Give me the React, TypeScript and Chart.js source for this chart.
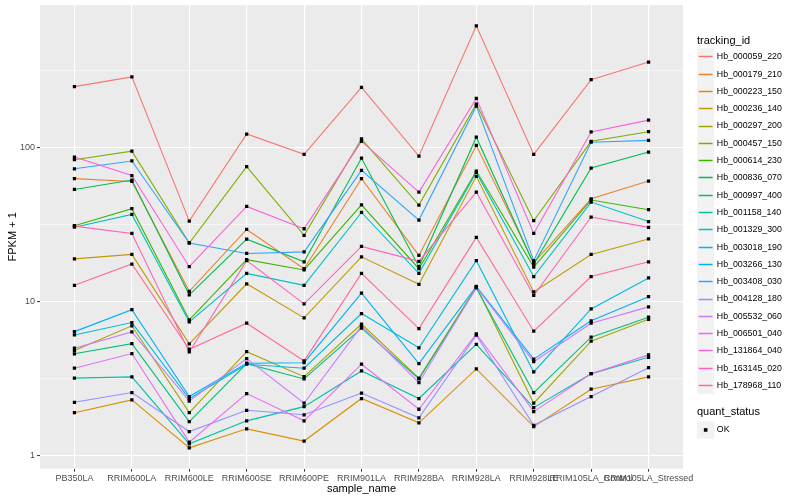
import React, { useEffect, useRef } from 'react';
import { Chart, registerables } from 'chart.js';

Chart.register(...registerables);

const categories = [
  'PB350LA', 'RRIM600LA', 'RRIM600LE', 'RRIM600SE', 'RRIM600PE', 'RRIM901LA',
  'RRIM928BA', 'RRIM928LA', 'RRIM928LE', 'RRIM105LA_Control', 'RRIM105LA_Stressed',
];

const seriesNames = [
  'Hb_000059_220', 'Hb_000179_210', 'Hb_000223_150', 'Hb_000236_140', 'Hb_000297_200',
  'Hb_000457_150', 'Hb_000614_230', 'Hb_000836_070', 'Hb_000997_400', 'Hb_001158_140',
  'Hb_001329_300', 'Hb_003018_190', 'Hb_003266_130', 'Hb_003408_030', 'Hb_004128_180',
  'Hb_005532_060', 'Hb_006501_040', 'Hb_131864_040', 'Hb_163145_020', 'Hb_178968_110',
];

const seriesColors = [
  '#F8766D', '#EA8331', '#D89000', '#C09B00', '#A3A500', '#7CAE00', '#39B600', '#00BB4E',
  '#00BF7D', '#00C1A3', '#00BFC4', '#00BAE0', '#00B0F6', '#35A2FF', '#9590FF', '#C77CFF',
  '#E76BF3', '#FA62DB', '#FF62BC', '#FF6C91',
];

// FPKM + 1 values, one array per tracking_id, in category order
const hb000059_220 = [249, 288, 33.4, 122.7, 90.5, 246, 88.3, 617, 90.5, 276.5, 359.7];
const hb000179_210 = [63, 60.4, 11.7, 29.5, 16.4, 63, 20, 103.5, 17.9, 46.6, 60.8];
const hb000223_150 = [1.91, 2.31, 1.13, 1.5, 1.25, 2.36, 1.64, 3.67, 1.55, 2.71, 3.26];
const hb000236_140 = [19, 20.3, 5.34, 13.1, 7.87, 19.6, 13.0, 65.2, 11.6, 20.3, 25.6];
const hb000297_200 = [4.83, 6.99, 1.91, 4.75, 3.27, 7.17, 3.2, 12.5, 2.2, 5.56, 7.7];
const hb000457_150 = [83.6, 95, 24.1, 75.3, 27, 114, 42.4, 192, 33.6, 110, 127];
const hb000614_230 = [31.2, 40.2, 7.64, 18.8, 16.1, 42.6, 16.4, 70.6, 16.8, 45.8, 39.6];
const hb000836_070 = [53.6, 61.7, 11.1, 25.5, 18.2, 85.7, 16.9, 117, 17.6, 73.8, 93.7];
const hb000997_400 = [4.6, 5.36, 1.67, 3.97, 3.16, 6.75, 3.16, 12.3, 2.58, 5.9, 7.95];
const hb001158_140 = [3.2, 3.26, 1.2, 1.69, 2.09, 3.56, 2.36, 5.3, 2.06, 3.42, 4.37];
const hb001329_300 = [30.5, 36.9, 7.41, 15.3, 12.8, 38, 15.3, 69.1, 14.6, 44.4, 33.2];
const hb003018_190 = [6.1, 7.34, 2.35, 3.94, 3.71, 8.4, 5.03, 18.5, 3.51, 9.0, 14.3];
const hb003266_130 = [6.41, 8.9, 2.43, 4.0, 4.03, 11.4, 3.97, 12.6, 4.25, 7.53, 10.8];
const hb003408_030 = [73, 82, 24.1, 20.6, 21.1, 71.3, 33.9, 186, 18.5, 108.5, 111.5];
const hb004128_180 = [2.23, 2.58, 1.44, 1.98, 1.85, 2.56, 1.77, 6.08, 1.58, 2.43, 3.74];
const hb005532_060 = [5.0, 6.38, 2.27, 4.28, 2.2, 6.96, 2.99, 12.4, 4.09, 7.27, 9.28];
const hb006501_040 = [3.71, 4.62, 1.23, 2.54, 1.69, 3.94, 2.01, 6.2, 1.94, 3.42, 4.53];
const hb131864_040 = [87, 66, 16.9, 41.6, 29.8, 110, 51.5, 209, 27.8, 126.5, 151];
const hb163145_020 = [31, 27.8, 4.73, 18.5, 9.7, 22.9, 18.3, 51.5, 11.0, 35.5, 30.4];
const hb178968_110 = [12.8, 17.6, 4.93, 7.27, 4.14, 15.3, 6.7, 26.2, 6.45, 14.6, 18.2];

const seriesValues = [
  hb000059_220, hb000179_210, hb000223_150, hb000236_140, hb000297_200,
  hb000457_150, hb000614_230, hb000836_070, hb000997_400, hb001158_140,
  hb001329_300, hb003018_190, hb003266_130, hb003408_030, hb004128_180,
  hb005532_060, hb006501_040, hb131864_040, hb163145_020, hb178968_110,
];

const yMajorTicks = [1, 10, 100];
const yMinorTicks = [3.1623, 31.623, 316.23];
const yMin = 0.827;
const yMax = 843;

const FONT = '"Liberation Sans", Arial, Helvetica, sans-serif';

const isMajor = (v: number) => yMajorTicks.some((m) => Math.abs(m - v) < 1e-6);

const bgPlugin = {
  id: 'ggbg',
  beforeDraw(chart: any) {
    const { ctx, chartArea: a } = chart;
    ctx.save();
    ctx.fillStyle = '#FFFFFF';
    ctx.fillRect(0, 0, chart.width, chart.height);
    ctx.fillStyle = '#EBEBEB';
    ctx.fillRect(a.left, a.top, a.right - a.left, a.bottom - a.top);
    ctx.restore();
  },
};

const decorPlugin = {
  id: 'ggdecor',
  afterDraw(chart: any) {
    const { ctx, chartArea: a } = chart;
    ctx.save();
    // axis titles
    ctx.fillStyle = '#000000';
    ctx.font = `11px ${FONT}`;
    ctx.textAlign = 'center';
    ctx.textBaseline = 'middle';
    ctx.fillText('sample_name', (a.left + a.right) / 2, 489);
    ctx.save();
    ctx.translate(12.5, (a.top + a.bottom) / 2);
    ctx.rotate(-Math.PI / 2);
    ctx.fillText('FPKM + 1', 0, 0);
    ctx.restore();

    // legend: tracking_id
    const lx = 697;
    const key = 17.3;
    ctx.textAlign = 'left';
    ctx.font = `11px ${FONT}`;
    ctx.fillText('tracking_id', lx, 40.5);
    ctx.font = `8.8px ${FONT}`;
    seriesNames.forEach((name, i) => {
      const top = 48.2 + i * key;
      const cy = Math.floor(top + key / 2) + 0.5;
      ctx.fillStyle = '#F2F2F2';
      ctx.fillRect(lx, top, key, key);
      ctx.strokeStyle = seriesColors[i];
      ctx.lineWidth = 1.5;
      ctx.beginPath();
      ctx.moveTo(lx + 1.7, cy);
      ctx.lineTo(lx + key - 1.7, cy);
      ctx.stroke();
      ctx.fillStyle = '#000000';
      ctx.fillText(name, lx + key + 2.5, top + key / 2);
    });

    // legend: quant_status
    ctx.font = `11px ${FONT}`;
    ctx.fillText('quant_status', lx, 412.3);
    const qTop = 421.3;
    ctx.fillStyle = '#F2F2F2';
    ctx.fillRect(lx, qTop, key, key);
    ctx.fillStyle = '#000000';
    ctx.fillRect(lx + key / 2 - 1.8, qTop + key / 2 - 1.8, 3.6, 3.6);
    ctx.font = `8.8px ${FONT}`;
    ctx.fillText('OK', lx + key + 2.5, qTop + key / 2);
    ctx.restore();
  },
};

export default function App() {
  const ref = useRef<HTMLCanvasElement>(null);

  useEffect(() => {
    const canvas = ref.current;
    if (!canvas) return;

    const lineSets = seriesValues.map((vals, i) => ({
      type: 'line' as const,
      label: seriesNames[i],
      data: vals.map((v, j) => ({ x: j, y: v })),
      borderColor: seriesColors[i],
      backgroundColor: seriesColors[i],
      borderWidth: 1.1,
      pointRadius: 0,
      fill: false,
      tension: 0,
      order: 100 - i,
    }));

    const pointSet = {
      type: 'line' as const,
      label: 'OK',
      data: seriesValues.flatMap((vals) => vals.map((v, j) => ({ x: j, y: v }))),
      showLine: false,
      borderColor: '#000000',
      backgroundColor: '#000000',
      pointStyle: 'rect',
      pointRadius: 2.3,
      pointBorderWidth: 0,
      order: 0,
    };

    const chart = new Chart(canvas, {
      type: 'line',
      data: { datasets: [pointSet as any, ...lineSets] },
      plugins: [bgPlugin, decorPlugin],
      options: {
        responsive: false,
        animation: false,
        events: [],
        layout: { padding: { top: 5, right: 117, bottom: 0, left: 0 } },
        plugins: {
          legend: { display: false },
          tooltip: { enabled: false },
          title: { display: false },
        },
        scales: {
          x: {
            type: 'linear',
            min: -0.6,
            max: 10.6,
            afterBuildTicks: (s: any) => {
              s.ticks = categories.map((_, i) => ({ value: i }));
            },
            afterFit: (s: any) => {
              s.height = 31.3;
              s.paddingLeft = 0;
              s.paddingRight = 0;
            },
            border: { display: false },
            grid: {
              color: '#FFFFFF',
              lineWidth: 1.1,
              tickColor: '#333333',
              tickLength: 3,
              tickWidth: 1,
            },
            ticks: {
              callback: (v: any) => categories[Math.round(Number(v))] ?? '',
              autoSkip: false,
              maxRotation: 0,
              minRotation: 0,
              padding: 1.5,
              color: '#4D4D4D',
              font: { family: FONT, size: 9 },
            },
          },
          y: {
            type: 'logarithmic',
            min: yMin,
            max: yMax,
            afterBuildTicks: (s: any) => {
              s.ticks = [...yMajorTicks, ...yMinorTicks]
                .sort((p, q) => p - q)
                .map((v) => ({ value: v }));
            },
            afterFit: (s: any) => {
              s.width = 40;
              s.paddingTop = 0;
              s.paddingBottom = 0;
            },
            border: { display: false },
            grid: {
              color: '#FFFFFF',
              lineWidth: (ctx: any) => (ctx.tick && isMajor(ctx.tick.value) ? 1.1 : 0.55),
              tickColor: (ctx: any) => (ctx.tick && isMajor(ctx.tick.value) ? '#333333' : 'rgba(0,0,0,0)'),
              tickLength: 3,
              tickWidth: 1,
            },
            ticks: {
              callback: (v: any) => (isMajor(Number(v)) ? String(v) : ''),
              autoSkip: false,
              padding: 2,
              color: '#4D4D4D',
              font: { family: FONT, size: 9 },
            },
          },
        },
      } as any,
    });

    return () => chart.destroy();
  }, []);

  return (
    <div style={{ position: 'absolute', left: 0, top: 0, width: 800, height: 500, background: '#fff' }}>
      <canvas ref={ref} width={800} height={500} style={{ display: 'block' }} />
    </div>
  );
}
